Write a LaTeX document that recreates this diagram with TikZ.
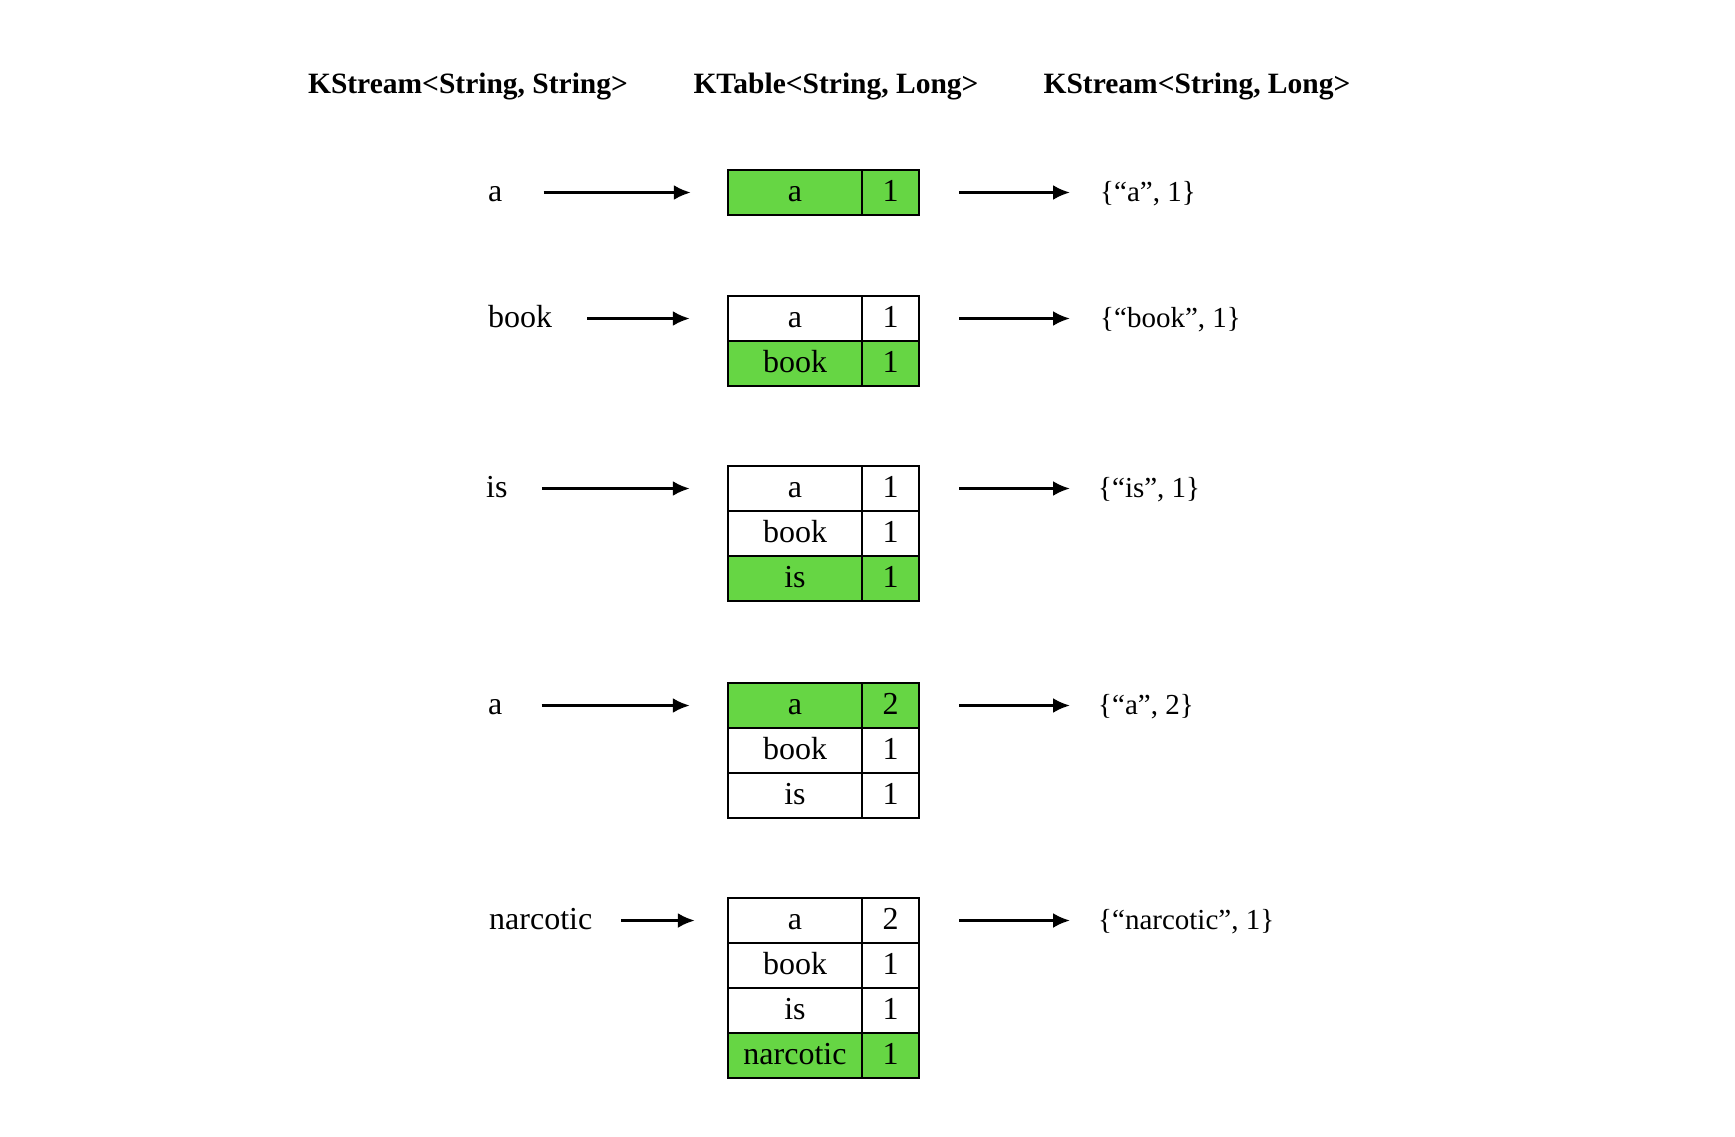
\documentclass[tikz,border=0pt]{standalone}
\usepackage{fontspec}
\setmainfont{Liberation Serif}
\usetikzlibrary{arrows.meta}
\definecolor{hl}{RGB}{102,214,68}
\begin{document}
\begin{tikzpicture}[x=1pt,y=-1pt,
  txt/.style={font=\fontsize{32}{38}\selectfont, inner sep=0pt, text height=18pt, text depth=0pt},
  rtxt/.style={font=\fontsize{29}{36}\selectfont, inner sep=0pt, text height=18pt, text depth=0pt, anchor=west},
  hdr/.style={font=\fontsize{29.5}{36}\selectfont\bfseries, inner sep=0pt, anchor=base},
  keycell/.style={txt, draw, line width=2.4pt, minimum width=134pt, minimum height=45pt},
  valcell/.style={txt, draw, line width=2.4pt, minimum width=57pt, minimum height=45pt},
  on/.style={fill=hl},
  lbl/.style={txt, anchor=west},
  arr/.style={line width=2.8pt, -{Latex[length=17pt,width=15pt]}}]
\fill[white] (0,0) rectangle (1735,1136);
\useasboundingbox (0,0) rectangle (1735,1136);

% headers
\node[hdr] (h1) at (468,93) {KStream<String, String>};
\node[hdr] (h2) at (836,93) {KTable<String, Long>};
\node[hdr] (h3) at (1197,93) {KStream<String, Long>};

% row 1
\node[lbl] (in1) at (488,192.5) {a};
\node[keycell,on] (t1k1) at (795,192.5) {a};
\node[valcell,on] (t1v1) at (890.5,192.5) {1};
\node[rtxt] (out1) at (1100,192.5) {\{“a”, 1\}};
\draw[arr, shorten <=41pt, shorten >=36pt] (in1) -- (t1k1);
\draw[arr, shorten <=39pt, shorten >=30pt] (t1v1) -- (out1);

% row 2
\node[lbl] (in2) at (488,318.5) {book};
\node[keycell] (t2k1) at (795,318.5) {a};
\node[valcell] (t2v1) at (890.5,318.5) {1};
\node[keycell,on] (t2k2) at (795,363.5) {book};
\node[valcell,on] (t2v2) at (890.5,363.5) {1};
\node[rtxt] (out2) at (1100,318.5) {\{“book”, 1\}};
\draw[arr, shorten <=35pt, shorten >=37pt] (in2) -- (t2k1);
\draw[arr, shorten <=39pt, shorten >=30pt] (t2v1) -- (out2);

% row 3
\node[lbl] (in3) at (486,488.5) {is};
\node[keycell] (t3k1) at (795,488.5) {a};
\node[valcell] (t3v1) at (890.5,488.5) {1};
\node[keycell] (t3k2) at (795,533.5) {book};
\node[valcell] (t3v2) at (890.5,533.5) {1};
\node[keycell,on] (t3k3) at (795,578.5) {is};
\node[valcell,on] (t3v3) at (890.5,578.5) {1};
\node[rtxt] (out3) at (1098,488.5) {\{“is”, 1\}};
\draw[arr, shorten <=34pt, shorten >=37pt] (in3) -- (t3k1);
\draw[arr, shorten <=39pt, shorten >=28pt] (t3v1) -- (out3);

% row 4
\node[lbl] (in4) at (488,705.5) {a};
\node[keycell,on] (t4k1) at (795,705.5) {a};
\node[valcell,on] (t4v1) at (890.5,705.5) {2};
\node[keycell] (t4k2) at (795,750.5) {book};
\node[valcell] (t4v2) at (890.5,750.5) {1};
\node[keycell] (t4k3) at (795,795.5) {is};
\node[valcell] (t4v3) at (890.5,795.5) {1};
\node[rtxt] (out4) at (1098,705.5) {\{“a”, 2\}};
\draw[arr, shorten <=39pt, shorten >=37pt] (in4) -- (t4k1);
\draw[arr, shorten <=39pt, shorten >=28pt] (t4v1) -- (out4);

% row 5
\node[lbl] (in5) at (489,920.5) {narcotic};
\node[keycell] (t5k1) at (795,920.5) {a};
\node[valcell] (t5v1) at (890.5,920.5) {2};
\node[keycell] (t5k2) at (795,965.5) {book};
\node[valcell] (t5v2) at (890.5,965.5) {1};
\node[keycell] (t5k3) at (795,1010.5) {is};
\node[valcell] (t5v3) at (890.5,1010.5) {1};
\node[keycell,on] (t5k4) at (795,1055.5) {narcotic};
\node[valcell,on] (t5v4) at (890.5,1055.5) {1};
\node[rtxt] (out5) at (1098,920.5) {\{“narcotic”, 1\}};
\draw[arr, shorten <=29pt, shorten >=32pt] (in5) -- (t5k1);
\draw[arr, shorten <=39pt, shorten >=28pt] (t5v1) -- (out5);
\end{tikzpicture}
\end{document}
